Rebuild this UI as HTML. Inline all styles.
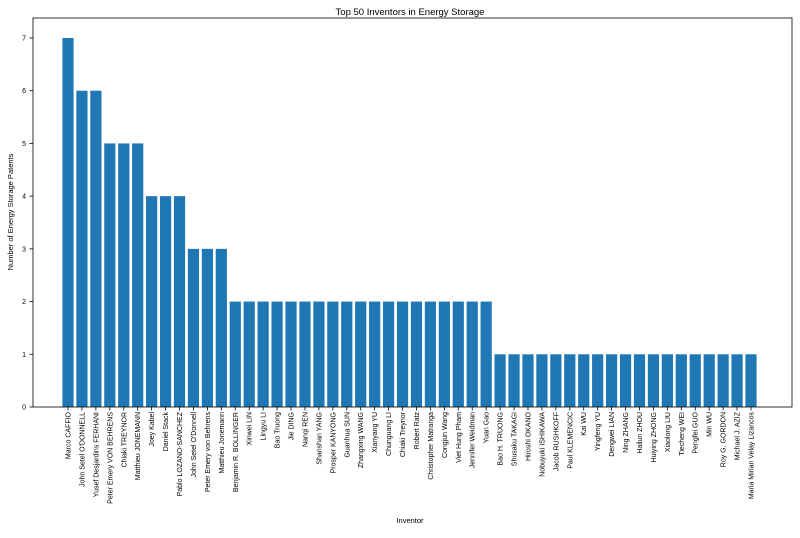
<!DOCTYPE html>
<html><head><meta charset="utf-8"><style>
body{margin:0;background:#fff;font-family:"Liberation Sans","DejaVu Sans",sans-serif;}
</style></head><body>
<svg width="800" height="533" viewBox="0 0 800 533" xmlns="http://www.w3.org/2000/svg">
<text x="410" y="15" font-size="9.5" text-anchor="middle">Top 50 Inventors in Energy Storage</text>
<g id="bars"></g>
<g id="yaxis"></g>
<g id="xaxis"></g>
<rect x="33" y="18" width="759" height="389" fill="none" stroke="#000" stroke-width="0.8"/>
<text x="410" y="523" font-size="7.5" text-anchor="middle">Inventor</text>
<text transform="translate(13,212) rotate(-90)" font-size="7.5" text-anchor="middle">Number of Energy Storage Patents</text>
</svg>
<script>
const inventors=["Marco CAFFIO","John Setel O'DONNELL","Yusef Desjardins FERHANI","Peter Emery VON BEHRENS","Chiaki TREYNOR","Matthieu JONEMANN","Joey Kabel","Daniel Stack","Pablo LOZANO-SANCHEZ","John Setel O'Donnell","Peter Emery von Behrens","Matthieu Jonemann","Benjamin R. BOLLINGER","Xinwei LIN","Lingyu LI","Bao Truong","Jie DING","Nanqi REN","Shanshan YANG","Prosper KANYONG","Guanhua SUN","Zhangxing WANG","Xianyang YU","Chunguang LI","Chiaki Treynor","Robert Ratz","Christopher Matranga","Congjun Wang","Viet Hung Pham","Jennifer Weidman","Yuan Gao","Bao H. TRUONG","Shusaku TAKAGI","Hiroshi OKANO","Nobuyuki ISHIKAWA","Jacob RUSHKOFF","Paul KLEMENCIC","Kai WU","Yingfeng YU","Dengwei LIAN","Ning ZHANG","Hailun ZHOU","Huiying ZHONG","Xiaolong LIU","Tiecheng WEI","Pengfei GUO","Min WU","Roy G. GORDON","Michael J. AZIZ","Maria Mirian Velay Lizancos"];
const patents=[7,6,6,5,5,5,4,4,4,3,3,3,2,2,2,2,2,2,2,2,2,2,2,2,2,2,2,2,2,2,2,1,1,1,1,1,1,1,1,1,1,1,1,1,1,1,1,1,1,1];
const yTicks=[0,1,2,3,4,5,6,7];
const NS="http://www.w3.org/2000/svg";
const xs=i=>68+i*(751-68)/(inventors.length-1);
const ys=v=>407-v*(407-38)/7;
const bw=11.2;
const bars=document.getElementById('bars'),xa=document.getElementById('xaxis'),ya=document.getElementById('yaxis');
function mk(t,a){const e=document.createElementNS(NS,t);for(const k in a)e.setAttribute(k,a[k]);return e;}
patents.forEach((v,i)=>{
 const r=mk('rect',{x:xs(i)-bw/2,y:ys(v),width:bw,height:ys(0)-ys(v),fill:'#1f77b4'});
 
 
 bars.appendChild(r);
 const tk=mk('line',{x1:xs(i),x2:xs(i),y1:407,y2:410.5,stroke:'#000','stroke-width':0.8});
 
 
 xa.appendChild(tk);
 const t=mk('text',{transform:`translate(${xs(i)+2.5},412) rotate(-90)`,'font-size':7,'text-anchor':'end'});
 
 
 t.textContent=inventors[i];xa.appendChild(t);
});
yTicks.forEach(v=>{
 const tk=mk('line',{x1:29.5,x2:33,y1:ys(v),y2:ys(v),stroke:'#000','stroke-width':0.8});
 
 
 ya.appendChild(tk);
 const t=mk('text',{x:26,y:ys(v)+2.5,'font-size':7,'text-anchor':'end'});
 
 
 t.textContent=v;ya.appendChild(t);
});
</script>
</body></html>
